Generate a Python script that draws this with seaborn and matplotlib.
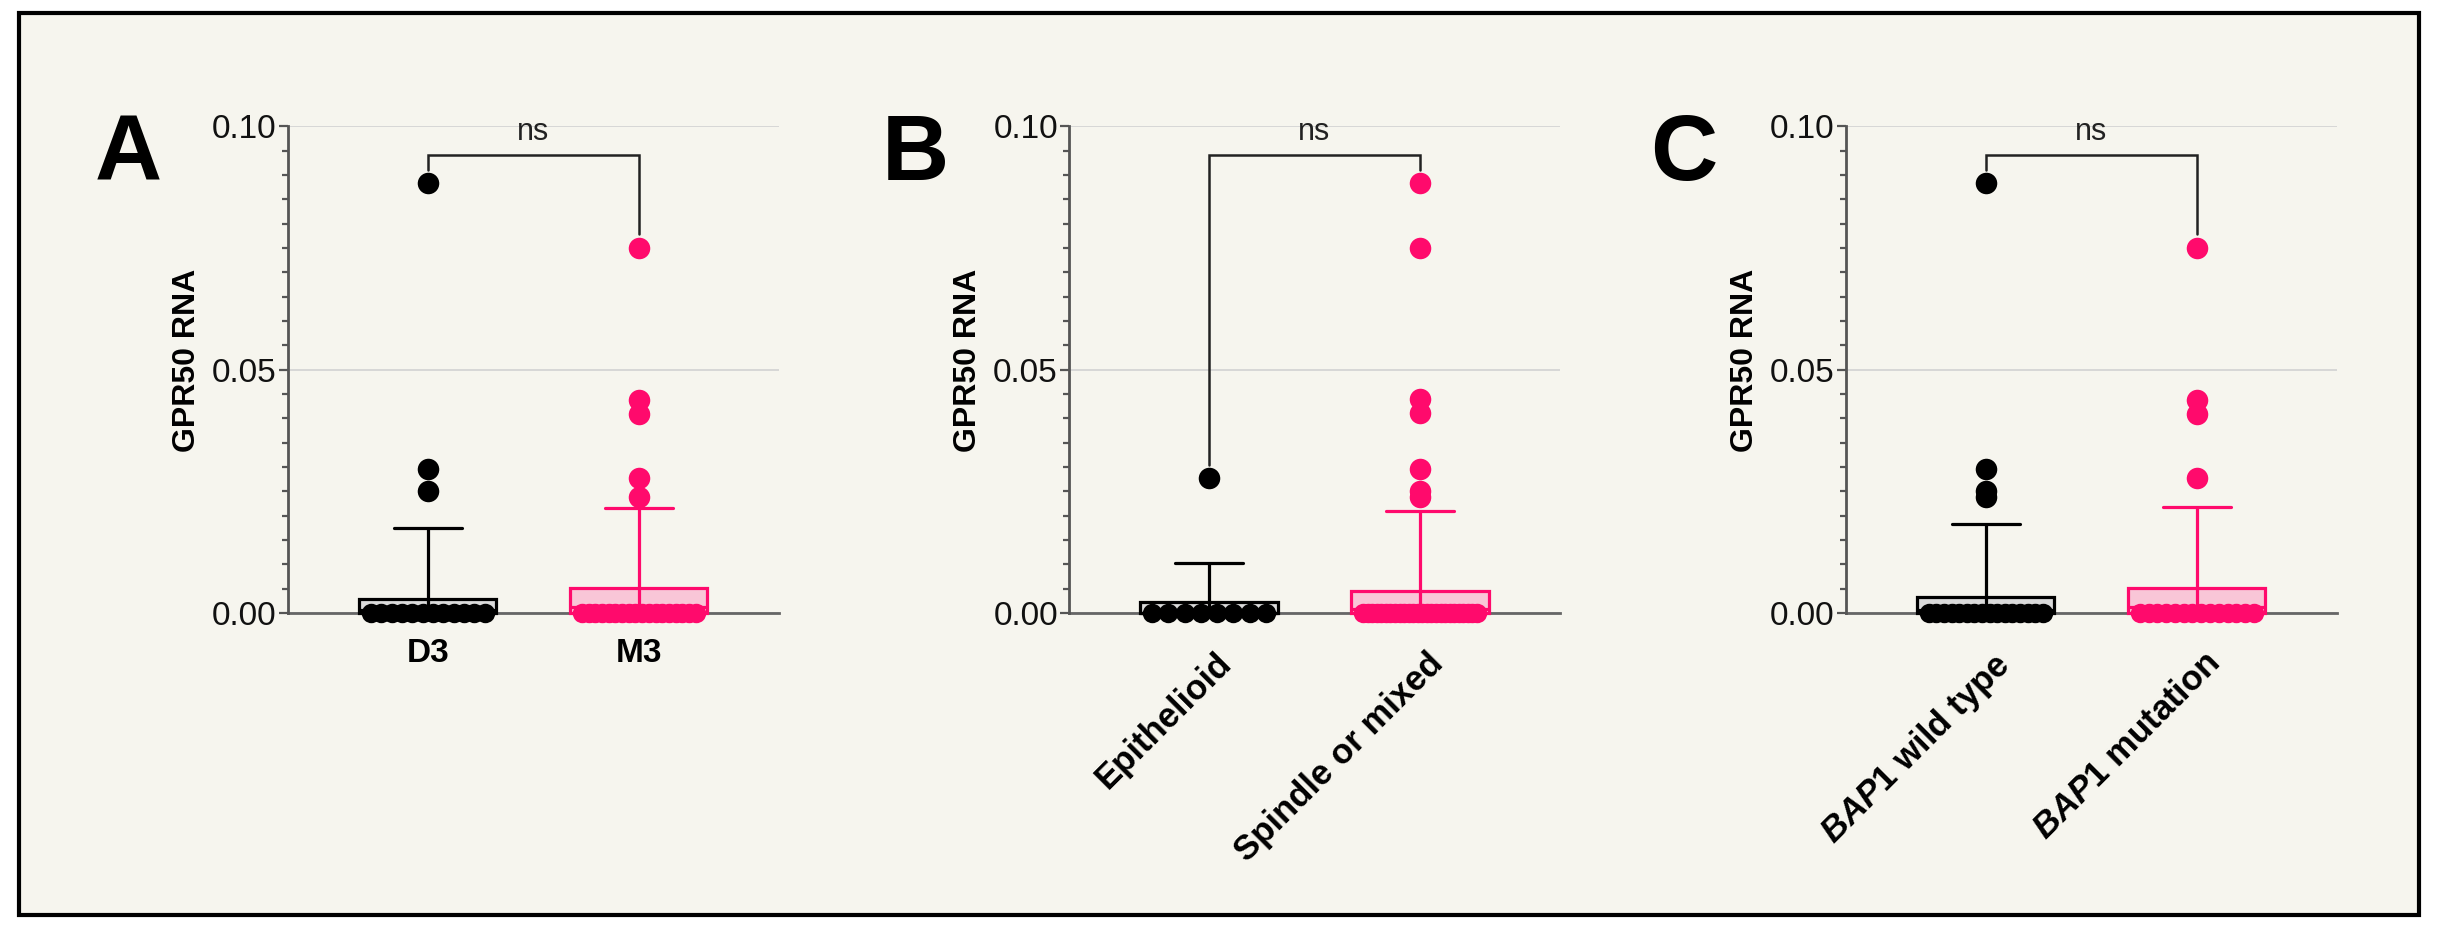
import matplotlib
matplotlib.use('Agg')  # no display

import numpy as np
import pandas as pd
import seaborn as sns
import matplotlib.pyplot as plt
from matplotlib import cbook
from matplotlib.patches import Rectangle
from matplotlib.ticker import FixedLocator
from matplotlib.transforms import ScaledTranslation

# GPR50 RNA per patient (many zeros, a few high values)
d3 = [0.0] * 12 + [0.0002, 0.0003, 0.0005, 0.0007, 0.0009, 0.0012, 0.0015, 0.0018,
                   0.0022, 0.0025, 0.0028, 0.0032, 0.0046, 0.0071, 0.0112, 0.0175,
                   0.0250, 0.0296, 0.0883]
m3 = [0.0] * 18 + [0.0002, 0.0003, 0.0005, 0.0006, 0.0008, 0.0010, 0.0012, 0.0014,
                   0.0016, 0.0019, 0.0021, 0.0024, 0.0027, 0.0030, 0.0034, 0.0038,
                   0.0042, 0.0047, 0.0052, 0.0061, 0.0073, 0.0089, 0.0108, 0.0134,
                   0.0171, 0.0217, 0.0239, 0.0278, 0.0410, 0.0438, 0.0751]
epithelioid = [0.0] * 8 + [0.0044, 0.0102, 0.0278]
spindle = [0.0] * 26 + [0.0001, 0.0002, 0.0003, 0.0004, 0.0005, 0.0006, 0.0007, 0.0008,
                        0.0009, 0.0010, 0.0011, 0.0013, 0.0015, 0.0017, 0.0019, 0.0021,
                        0.0023, 0.0025, 0.0027, 0.0029, 0.0031, 0.0033, 0.0036, 0.0039,
                        0.0042, 0.0045, 0.0049, 0.0054, 0.0061, 0.0069, 0.0080, 0.0094,
                        0.0111, 0.0133, 0.0165, 0.0210, 0.0239, 0.0251, 0.0296, 0.0412,
                        0.0439, 0.0751, 0.0883]
bap1_wt = [0.0] * 16 + [0.0002, 0.0003, 0.0005, 0.0006, 0.0008, 0.0010, 0.0012, 0.0014,
                        0.0017, 0.0020, 0.0023, 0.0026, 0.0029, 0.0033, 0.0037, 0.0048,
                        0.0066, 0.0092, 0.0131, 0.0183, 0.0239, 0.0251, 0.0296, 0.0883]
bap1_mut = [0.0] * 14 + [0.0002, 0.0004, 0.0006, 0.0008, 0.0010, 0.0012, 0.0014, 0.0017,
                         0.0020, 0.0023, 0.0026, 0.0030, 0.0034, 0.0039, 0.0044, 0.0050,
                         0.0055, 0.0066, 0.0084, 0.0110, 0.0150, 0.0218, 0.0278, 0.0410,
                         0.0438, 0.0751]

letters = ["A", "B", "C"]
categories = [["D3", "M3"],
              ["Epithelioid", "Spindle or mixed"],
              ["BAP1 wild type", "BAP1 mutation"]]
tick_labels = [["D3", "M3"],
               ["Epithelioid", "Spindle or mixed"],
               [r"$\mathit{BAP1}$ wild type", r"$\mathit{BAP1}$ mutation"]]
groups = [[d3, m3], [epithelioid, spindle], [bap1_wt, bap1_mut]]
y_ticks = [0.0, 0.05, 0.10]
y_ticklabels = ["0.00", "0.05", "0.10"]
sig_text = "ns"

edges = ["#000000", "#ff0a6c"]
fills = ["#dadada", "#f9c6d7"]
cream = "#f6f5ee"

sns.set_style("ticks")
plt.rcParams['font.family'] = ['Liberation Sans', 'DejaVu Sans']
plt.rcParams['text.color'] = 'black'
plt.rcParams['axes.labelcolor'] = 'black'
plt.rcParams['mathtext.fontset'] = 'custom'
plt.rcParams['mathtext.it'] = 'Liberation Sans:italic:bold'
plt.rcParams['mathtext.rm'] = 'Liberation Sans:bold'
plt.rcParams['mathtext.bf'] = 'Liberation Sans:bold'

fig = plt.figure(figsize=(24.42, 9.42), dpi=100, facecolor='white')
fig.add_artist(Rectangle((0.0078, 0.0287), 0.9828, 0.9575, transform=fig.transFigure,
                         facecolor=cream, edgecolor='black', lw=3, zorder=0))

lefts = [0.1179, 0.4378, 0.7559]
letter_x = [0.0389, 0.3612, 0.6757]

for k in range(3):
    ax = fig.add_axes([lefts[k], 0.3233, 0.201, 0.5425])
    ax.set_facecolor('none')
    cats = categories[k]

    for i, (cat, vals) in enumerate(zip(cats, groups[k])):
        vals = np.asarray(vals)
        sub = pd.DataFrame({'group': [cat] * len(vals), 'value': vals})
        sns.boxplot(data=sub, x='group', y='value', order=cats, whis=(10, 90), width=0.65,
                    color=fills[i], linecolor=edges[i], linewidth=2.3, saturation=1,
                    flierprops=dict(marker='o', markersize=15.5, markerfacecolor=edges[i],
                                    markeredgecolor=edges[i], markeredgewidth=0),
                    medianprops=dict(color=edges[i], linewidth=2.3),
                    ax=ax, zorder=3)
        st = cbook.boxplot_stats(vals, whis=(10, 90))[0]
        # whisker line runs on into the box, down to the median
        ax.plot([i, i], [st['med'], st['q3']], color=edges[i], lw=2.3, zorder=3.5)
        # values at the bottom of the range, spread evenly across the box
        low = vals[vals <= st['whislo']]
        spread = i + np.linspace(-0.27, 0.27, len(low))
        ax.scatter(spread, low, s=14 ** 2, color=edges[i], linewidths=0, zorder=4)

    # significance bracket
    top = 0.0942
    y0 = max(groups[k][0]) + 0.0027
    y1 = max(groups[k][1]) + 0.0027
    ax.plot([0, 0, 1, 1], [y0, top, top, y1], color='#222222', lw=1.8, zorder=5,
            solid_joinstyle='miter', clip_on=False)
    ax.text(0.5, 0.0972, sig_text, ha='center', va='baseline', fontsize=22, color='#222222')

    ax.set_xlim(-0.663, 1.663)
    ax.set_ylim(-0.005, 0.10)
    ax.set_yticks(y_ticks)
    ax.set_yticklabels(y_ticklabels)
    ax.yaxis.set_minor_locator(FixedLocator(np.linspace(0, 0.1, 21)))
    ax.spines[['top', 'right']].set_visible(False)
    ax.spines['left'].set_bounds(0, 0.1)
    ax.spines['left'].set_color('#555555')
    ax.spines['left'].set_linewidth(2)
    ax.spines['bottom'].set_position(('data', 0))
    ax.spines['bottom'].set_color('#666666')
    ax.spines['bottom'].set_linewidth(2)
    ax.spines['bottom'].set_zorder(1)
    ax.grid(axis='y', which='major', color='#d4d4d4', lw=1.3)
    ax.set_axisbelow(True)
    ax.tick_params(axis='y', which='major', length=6.5, width=1.6, color='#555555',
                   labelsize=24, pad=1.5, labelcolor='#111111')
    ax.tick_params(axis='y', which='minor', length=4, width=1.6, color='#555555')

    ax.set_xticks([0, 1])
    if k == 0:
        ax.set_xticklabels(tick_labels[k], fontsize=24, fontweight='bold')
        ax.tick_params(axis='x', length=0, pad=18, labelcolor='black')
    else:
        ax.set_xticklabels(tick_labels[k], fontsize=25, fontweight='bold', rotation=45,
                           ha='right', va='top', rotation_mode='anchor')
        ax.tick_params(axis='x', length=0, pad=24, labelcolor='black')
        shift = ScaledTranslation(6 / 100, 0, fig.dpi_scale_trans)
        for lab in ax.get_xticklabels():
            lab.set_transform(lab.get_transform() + shift)

    ax.set_xlabel('')
    ax.set_ylabel('GPR50 RNA', fontsize=23, fontweight='bold')
    ax.yaxis.set_label_coords(-0.175, 0.542)

    fig.text(letter_x[k], 0.809, letters[k], fontsize=67, fontweight='bold',
             ha='left', va='baseline', color='black')

fig.savefig('out.png', dpi=100, facecolor='white')
plt.close(fig)
